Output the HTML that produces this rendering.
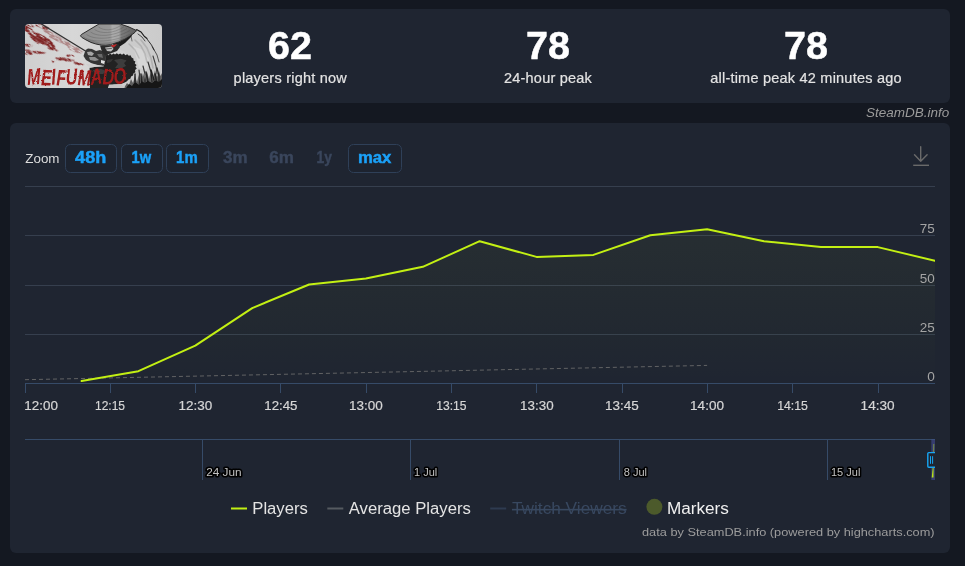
<!DOCTYPE html>
<html lang="en">
<head>
<meta charset="utf-8">
<title>MEIFUMADO - Steam Charts - SteamDB</title>
<style>
*{box-sizing:border-box;margin:0;padding:0}
html,body{width:965px;height:566px;overflow:hidden;background:#141821}
body{font-family:"Liberation Sans",sans-serif;color:#fff;position:relative}
.panel{will-change:transform;position:absolute;left:10px;width:940px;background:#1f2531;border-radius:6px}
#header{top:9px;height:94px}
#chart{top:123px;height:430px}
#appimg{position:absolute;left:15px;top:15px;width:137px;height:64px;border-radius:4px;overflow:hidden}
.stat{position:absolute;top:0;height:94px;width:258px;text-align:center}
.stat b{position:absolute;left:0;right:0;top:16.8px;font-size:38px;line-height:40px;font-weight:700;color:#fff;-webkit-text-stroke:.5px #fff;transform:scaleX(1.04)}
.stat span{position:absolute;left:0;right:0;top:59px;font-size:14.5px;line-height:20px;color:#e3e3e3;letter-spacing:.22px;-webkit-text-stroke:.2px #e3e3e3}
#credit{will-change:transform;position:absolute;right:16px;top:104.1px;font-size:13.5px;line-height:18px;font-style:italic;color:#9b9b9b}
svg text{font-family:"Liberation Sans",sans-serif}
</style>
</head>
<body>

<div class="panel" id="header">
  <div id="appimg">
    <svg width="137" height="64" viewBox="0 0 137 64">
      <defs>
        <linearGradient id="abg" x1="0" y1="0" x2="1" y2="0">
          <stop offset="0" stop-color="#cfcfcf"/><stop offset=".35" stop-color="#d7d7d7"/><stop offset="1" stop-color="#cbcbcb"/>
        </linearGradient>
        <linearGradient id="hatg" gradientUnits="userSpaceOnUse" x1="56" y1="8" x2="112" y2="8">
          <stop offset="0" stop-color="#8c8c8c"/><stop offset=".3" stop-color="#939393"/><stop offset=".52" stop-color="#979797"/><stop offset=".56" stop-color="#ababab"/><stop offset=".68" stop-color="#a4a4a4"/><stop offset=".72" stop-color="#7c7c7c"/><stop offset="1" stop-color="#5e5e5e"/>
        </linearGradient>
        <filter id="soft" x="-5%" y="-5%" width="110%" height="110%"><feGaussianBlur stdDeviation="0.4"/></filter>
        <filter id="splat" x="-10%" y="-10%" width="120%" height="120%">
          <feTurbulence type="fractalNoise" baseFrequency="0.16 0.75" numOctaves="2" seed="7" result="n"/>
          <feColorMatrix in="n" type="matrix" values="0 0 0 0 0  0 0 0 0 0  0 0 0 0 0  5 0 0 0 -1.75" result="m"/>
          <feComposite in="SourceGraphic" in2="m" operator="in" result="c"/>
          <feGaussianBlur in="c" stdDeviation=".35"/>
        </filter>
        <filter id="rough" x="-5%" y="-15%" width="110%" height="130%">
          <feTurbulence type="fractalNoise" baseFrequency="0.45" numOctaves="2" seed="11" result="t"/>
          <feDisplacementMap in="SourceGraphic" in2="t" scale="2.2" xChannelSelector="R" yChannelSelector="G" result="d"/>
          <feGaussianBlur in="d" stdDeviation=".3"/>
        </filter>
        <filter id="soft2" x="-5%" y="-5%" width="110%" height="110%"><feGaussianBlur stdDeviation="0.55"/></filter>
      </defs>
      <rect width="137" height="64" fill="url(#abg)"/>
      <!-- blood -->
      <g transform="rotate(30)" filter="url(#splat)">
      <g fill="#7e2424" transform="rotate(-30)">
        <path d="M0 1L4 2.5L8 6L11 8.5L15 10L20 12.5L25 16L28 19L30 22L31 26L27 24L23 22L20 21L17 20L13 19.5L9 17L6 14L3 10L0 7Z"/>
        <path d="M6 11L13 11L19 13L25 17L22 20L16 20L10 17.5Z"/>
        <path d="M9 12.5L15 12.5L19.7 15L19 19.7L13 19.5L9.5 16Z"/>
        <path d="M0 20L4 20.3L7.7 21.5L7 23L3 22.8L0 22.5Z"/>
        <path d="M0 25.5L3 25.5L6 27L11 27L16 27.5L21 28.5L20 29.8L14 29.8L9 29.5L6 30.8L2 30.5L0 30Z"/>
        <path d="M19.7 21L25 22L30 24.5L34 27L30 27L24 25Z"/>
        <path d="M30 33.6L37 33.2L44 34.5L50 36L52 37.4L45 37.4L38 37L32 36Z"/>
        <path d="M41 30.8L46 30.6L50 32L47 33L42 32.6Z"/>
        <path d="M48 38L54 38.5L60 40L58 41.2L51 40.6Z"/>
        <path d="M26 37L30 37L28 39Z"/>
        <path d="M10 0L17 0L24.4 4L22 6L16 4L11 2Z"/>
        <path d="M3 0L8 1L10 3L6 3.2L2 1.5Z"/>
      </g>
      <g fill="#7e2424" transform="rotate(-30)" opacity=".45">
        <path d="M17 4L24 7L32 11L40 16L48 21L55 25L59 28L56 29.5L49 26L42 22L34 17.5L27 13L20 9Z"/>
        <path d="M25 10L32 13L38 17L36 19L29 16L24 13Z"/>
        <path d="M42 22L50 26L57 29L52 29L45 26Z"/>
      </g>
      </g>
      <g fill="#7e2424" filter="url(#soft2)">
        <path d="M8 12L13 12L18 13.5L21 16L22 19L18 19.5L13 19L10 17Z" opacity=".7"/>
        <path d="M11 14L17 14.5L19 17.5L14 18Z" opacity=".6"/>
        <path d="M1 26.5L5 27L4 29.5L1 29Z" opacity=".55"/>
        <path d="M33 34.5L42 34.8L46 36.2L38 36.4Z" opacity=".5"/>
      </g>
      <!-- sword -->
      <path d="M16.3 0L60.5 27" stroke="#303030" stroke-width="1.25" fill="none"/>
      <g filter="url(#soft)">
      <!-- fur cloak -->
      <path d="M106 4L112 4.5L119.5 12.5L126.5 21L132 31L135 42L137 52L137 64L96 64L103 56L108 48L111 42L108 34L100 28L92 24L96 16Z" fill="#cbcbcb"/>
      <path d="M108 22L118 26L124 36L122 46L114 44L112 36Z" fill="#d6d6d6"/>
      <g stroke="#1a1a1a" fill="none" stroke-linecap="round">
        <path d="M111.6 5.5L116 8L119.5 12.5L122 14.5" stroke-width="1.1"/>
        <path d="M113 10L117 13L120 17" stroke-width=".9" opacity=".8"/>
        <path d="M122 15L126.5 21L129 26" stroke-width="1" opacity=".85"/>
        <path d="M127.5 23L132 31L134 38" stroke-width=".9" opacity=".75"/>
        <path d="M106 12L107 17" stroke-width=".8" opacity=".7"/>
        <path d="M110 16L116 22L120 30L122 38" stroke="#777" stroke-width="1.6" opacity=".3"/>
        <path d="M116 16L122 24L126 34L128 44" stroke="#777" stroke-width="1.6" opacity=".3"/>
        <path d="M104 20L110 26L114 34" stroke="#777" stroke-width="1.4" opacity=".3"/>
        <path d="M128 32L131 42L132 50" stroke-width="1.1" opacity=".8"/>
        <path d="M123 38L126 48L127 58" stroke-width="1.2" opacity=".85"/>
        <path d="M118 42L120 50L120 60" stroke-width="1.2" opacity=".85"/>
        <path d="M114 46L115 54L114 62" stroke-width="1.2" opacity=".8"/>
        <path d="M132 44L134 52L134 60" stroke-width="1.3" opacity=".9"/>
        <path d="M110 50L110 58M121 48L123 58M126 46L129 56M130 50L132 60M116 50L117 60" stroke-width="1.5" opacity=".9"/>
      </g>
      <path d="M99 64L102 59L104 61L106 55L108 59L110 52L112 58L114 50L116 57L118 49L120 56L122 48L124 55L126 47L128 54L130 46L132 53L134 47L135.5 52L137 49L137 64Z" fill="#1a1a1a" opacity=".62"/>
      <path d="M101 64L104 60L107 62L110 58L114 61L117 57.5L120 59L123 57L127 59L130 56.5L134 58L137 55L137 64Z" fill="#141414"/>
      <!-- under-hat shadow -->
      <path d="M88 20L96 17L104 12L108 9L106 13L100 19L94 23L90 24Z" fill="#1a1a1a"/>
      <!-- body -->
      <path d="M80.5 32L82 30.4L83.5 31.2L85 29.6L86.8 30.8L88.5 29.4L90 30.6L91.8 29.2L93.5 30.6L95.2 29.4L97 30.8L98.8 29.6L100.4 31.2L102.2 30.2L103.8 31.8L105.5 31.3L106.6 33.4L108.4 34.4L108.6 36.4L110.4 37.6L109.8 39.6L111.6 41L110.4 42.8L111.8 44.6L110 46L110.4 48.2L108.4 49.4L108 51.6L106 52.6L105.5 54.6L103.4 55.4L102 57.2L99.8 58.6L96 60L89 60.5L84 62L83 64L65 64L64.6 56L64.6 43.7L71 42.7L78.6 42.4L80 38Z" fill="#222222"/>
      <path d="M89 36L96 34.8L101.7 36.5L99 39L101 42L96 44.5L90 44L93 40Z" fill="#555555" opacity=".55"/>
      <path d="M82 36L88 35L86 38L82 39Z" fill="#444444" opacity=".6"/>
      <path d="M68 46L76 45L82 47L78 50L70 50Z" fill="#484848" opacity=".7"/>
      <path d="M84 60.5L96 60.2L100 64L83 64Z" fill="#c4c4c4"/>
      <!-- arms / hands -->
      <path d="M60.5 26L63 24.5L67 25L71 27L75 26L79 28L81 32L80 38L78.6 42L72 41L66 39L61 36L58.5 32Z" fill="#363636"/>
      <path d="M62 28L66 27.5L69 29.5L67 32L63 31Z" fill="#a5a5a5"/>
      <path d="M64 33L70 33L74 36L70 37L65 36Z" fill="#8e8e8e"/>
      <path d="M72 30L77 30L78 34L74 33Z" fill="#6a6a6a"/>
      <path d="M60.8 40L70 40.5L78.6 42L71 42.7L64.6 43.7Z" fill="#cfcfcf"/>
      <path d="M76 36L80 37L79 40L76 39Z" fill="#e0e0e0"/>
      <!-- face -->
      <path d="M75 21.5L80 21.5L88 21L93 19.5L95 23L92 27L88 28.5L84 30L80.5 32L77 28Z" fill="#2c2c2c"/>
      <path d="M80 23.5L87 22.5L88.5 25L86 27.5L82 27Z" fill="#bcbcbc"/>
      <path d="M81 25L87 24.3" stroke="#3a3a3a" stroke-width=".7"/>
      <path d="M85.6 21.5L92 20L90.5 22L88.5 23.5L87 22.6Z" fill="#bf2a2a"/>
      <!-- hat -->
      <path d="M56.4 10.5L74 0L95.4 0L104 3L111.6 6.6Q109.5 9.5 100 15.2Q94 18.3 85.6 20.6Q80.5 21.8 76.7 21.2Q70.5 20.2 65.9 18.4Q60.5 15.8 56.8 13.4Q54.4 11.8 56.4 10.5Z" fill="url(#hatg)" stroke="#2b2b2b" stroke-width="1" stroke-linejoin="round"/>
      <g stroke="#3c3c3c" stroke-width=".5" fill="none" opacity=".5">
        <path d="M58 12.6C66 19 88 19 108 8.8"/>
        <path d="M61.5 10.5C69 16 88 16 105 6.5"/>
        <path d="M65.5 8C72 13 88 13 102 4.5"/>
        <path d="M69.5 5.5C76 10 88 10 99 2.8"/>
        <path d="M73.5 3C79 7 88 7 96 1.2"/>
      </g>
      <path d="M59 14.5L65.9 18.4L76.7 21.2L85.6 20.6L94.5 17.7L100 15.2L108 9L100 13.5L92 16.2L84 18.3L76 18.8L67 16.6Z" fill="#000000" opacity=".14"/>
      </g>
      <!-- title -->
      <g font-family="'Liberation Sans',sans-serif" font-weight="700" font-style="italic" fill="#a01a1a" filter="url(#rough)">
        <text x="2.6" y="61" font-size="22.5" textLength="99" lengthAdjust="spacingAndGlyphs" rotate="-3 2 -4 3 -2 3 -5 2 -3" dy="0 0.6 -0.4 0.5 -0.3 0.4 0.3 -0.6 0.2" transform="rotate(-1 2 60)">MEIFUMADO</text>
      </g>
    </svg>
  </div>
  <div class="stat" style="left:151.3px"><b>62</b><span>players right now</span></div>
  <div class="stat" style="left:409px"><b>78</b><span>24-hour peak</span></div>
  <div class="stat" style="left:667px"><b>78</b><span>all-time peak 42 minutes ago</span></div>
</div>

<div id="credit">SteamDB.info</div>

<div class="panel" id="chart">
<svg width="940" height="430" viewBox="10 123 940 430" style="position:absolute;left:0;top:0">
  <defs>
    <linearGradient id="pfill" x1="0" y1="0" x2="0" y2="1">
      <stop offset="0" stop-color="#b8d84a" stop-opacity="0.05"/>
      <stop offset="1" stop-color="#c3f013" stop-opacity="0"/>
    </linearGradient>
    <clipPath id="plotclip"><rect x="25" y="180" width="910" height="204"/></clipPath>
    <clipPath id="credclip"><rect x="600" y="520" width="340" height="18"/></clipPath>
    <clipPath id="navclip"><rect x="25" y="439" width="910" height="41"/></clipPath>
  </defs>

  <!-- range selector -->
  <text x="25.3" y="163" font-size="13.2" fill="#dddddd" textLength="34.2" lengthAdjust="spacingAndGlyphs">Zoom</text>
  <g fill="#1d232f" stroke="#2f4058" stroke-width="1">
    <rect x="65.5" y="144.5" width="51" height="28" rx="5"/>
    <rect x="121.5" y="144.5" width="41" height="28" rx="5"/>
    <rect x="166.5" y="144.5" width="42" height="28" rx="5"/>
    <rect x="348.5" y="144.5" width="53" height="28" rx="5"/>
  </g>
  <g font-size="16" font-weight="700" text-anchor="middle" fill="#1ba1f8" stroke="#1ba1f8" stroke-width=".45">
    <text x="90.7" y="163.3" textLength="31.2" lengthAdjust="spacingAndGlyphs">48h</text>
    <text x="141.3" y="163.3" textLength="19.6" lengthAdjust="spacingAndGlyphs">1w</text>
    <text x="186.9" y="163.3" textLength="21.6" lengthAdjust="spacingAndGlyphs">1m</text>
    <text x="374.7" y="163.3" textLength="33.5" lengthAdjust="spacingAndGlyphs">max</text>
  </g>
  <g font-size="16" font-weight="700" text-anchor="middle" fill="#3a465c" stroke="#3a465c" stroke-width=".4">
    <text x="235.4" y="163.3" textLength="24.6" lengthAdjust="spacingAndGlyphs">3m</text>
    <text x="281.5" y="163.3" textLength="24.6" lengthAdjust="spacingAndGlyphs">6m</text>
    <text x="324.2" y="163.3" textLength="15.4" lengthAdjust="spacingAndGlyphs">1y</text>
  </g>

  <!-- export icon -->
  <g fill="none" stroke="#6a6a6a" stroke-width="1.4" stroke-linecap="round" stroke-linejoin="round">
    <path d="M920.7 146.7V161.2M914.5 154.8L920.7 161.2L927.1 154.8"/><path d="M913.2 165.3H929" stroke-linecap="butt"/>
  </g>

  <!-- gridlines -->
  <path d="M25 186.5H935M25 235.5H935M25 285.5H935M25 334.5H935" stroke="#363f4e" stroke-width="1" fill="none" shape-rendering="crispEdges"/>
  <!-- x axis -->
  <path d="M25 383.5H935M25.5 383.5V393M110.5 383.5V393M195.5 383.5V393M280.5 383.5V393M366.5 383.5V393M451.5 383.5V393M536.5 383.5V393M622.5 383.5V393M707.5 383.5V393M792.5 383.5V393M878.5 383.5V393" stroke="#364b68" stroke-width="1" fill="none" shape-rendering="crispEdges"/>

  <!-- series -->
  <g clip-path="url(#plotclip)">
    <path d="M81.6 381.0L138.4 371.2L195.3 345.6L252.2 308.1L309.1 284.5L365.9 278.6L422.8 266.8L479.7 241.2L536.5 256.9L593.4 254.9L650.3 235.2L707.1 229.3L764.0 241.2L820.9 247.1L877.8 247.1L935.0 260.9L935 383.5L81.6 383.5Z" fill="url(#pfill)"/>
    <path d="M25 379.7L707.1 365.4" stroke="#6c6c6c" stroke-opacity=".85" stroke-width="1" stroke-dasharray="4,3" fill="none"/>
    <path d="M81.6 381.0L138.4 371.2L195.3 345.6L252.2 308.1L309.1 284.5L365.9 278.6L422.8 266.8L479.7 241.2L536.5 256.9L593.4 254.9L650.3 235.2L707.1 229.3L764.0 241.2L820.9 247.1L877.8 247.1L935.0 260.9" stroke="#c3f013" stroke-width="2" fill="none" stroke-linejoin="round" stroke-linecap="round"/>
  </g>

  <!-- y labels -->
  <g font-size="12.4" text-anchor="end" fill="#a4a4a4">
    <text x="934.8" y="233" textLength="15" lengthAdjust="spacingAndGlyphs">75</text>
    <text x="934.8" y="283" textLength="15" lengthAdjust="spacingAndGlyphs">50</text>
    <text x="934.8" y="332" textLength="15" lengthAdjust="spacingAndGlyphs">25</text>
    <text x="934.8" y="381" textLength="7.6" lengthAdjust="spacingAndGlyphs">0</text>
  </g>
  <!-- x labels -->
  <g font-size="13" fill="#d6d6d6" stroke="#d6d6d6" stroke-width=".2">
    <text x="24.3" y="409.6" textLength="33.6" lengthAdjust="spacingAndGlyphs">12:00</text>
    <text x="95.0" y="409.6" textLength="30.0" lengthAdjust="spacingAndGlyphs">12:15</text>
    <text x="178.6" y="409.6" textLength="33.7" lengthAdjust="spacingAndGlyphs">12:30</text>
    <text x="264.3" y="409.6" textLength="33.2" lengthAdjust="spacingAndGlyphs">12:45</text>
    <text x="349.1" y="409.6" textLength="33.8" lengthAdjust="spacingAndGlyphs">13:00</text>
    <text x="436.2" y="409.6" textLength="30.3" lengthAdjust="spacingAndGlyphs">13:15</text>
    <text x="520.1" y="409.6" textLength="33.5" lengthAdjust="spacingAndGlyphs">13:30</text>
    <text x="605.0" y="409.6" textLength="33.7" lengthAdjust="spacingAndGlyphs">13:45</text>
    <text x="690.1" y="409.6" textLength="33.9" lengthAdjust="spacingAndGlyphs">14:00</text>
    <text x="777.2" y="409.6" textLength="30.7" lengthAdjust="spacingAndGlyphs">14:15</text>
    <text x="860.6" y="409.6" textLength="34.0" lengthAdjust="spacingAndGlyphs">14:30</text>
  </g>

  <!-- navigator -->
  <path d="M25 439.5H935M202.5 439.5V479.5M410.5 439.5V479.5M619.5 439.5V479.5M827.5 439.5V479.5" stroke="#364b68" stroke-width="1" fill="none" shape-rendering="crispEdges"/>
  <g font-size="11" fill="#c2c2c2" stroke="#000000" stroke-width="3.2" stroke-linejoin="round" paint-order="stroke">
    <text x="206.2" y="475.8" textLength="35.4" lengthAdjust="spacingAndGlyphs">24 Jun</text>
    <text x="414" y="475.8">1 Jul</text>
    <text x="623.8" y="475.8">8 Jul</text>
    <text x="831" y="475.8">15 Jul</text>
  </g>
  <g clip-path="url(#navclip)">
    <rect x="931.3" y="439.5" width="3.7" height="40.5" fill="#5660c4" fill-opacity="0.42"/>
    <path d="M933.1 468L933.8 444" stroke="#c3f013" stroke-width=".9" fill="none" opacity=".5"/>
    <path d="M931.7 477.6L933.5 477.6L933.6 466L932.9 466Z" fill="#c3f013" opacity=".92"/>
    <rect x="927.8" y="452.6" width="12" height="14.7" rx="1" fill="#1f2531" stroke="#17a6f4" stroke-width="1.4"/>
    <path d="M930.5 456.2V463.8M932.6 456.2V463.8" stroke="#17a6f4" stroke-width="1" fill="none"/>
  </g>

  <!-- legend -->
  <path d="M231 508.5H247" stroke="#c3f013" stroke-width="2"/>
  <text x="252.3" y="514.3" font-size="16" fill="#e4e4e4" textLength="55.5" lengthAdjust="spacingAndGlyphs">Players</text>
  <path d="M327.3 508.5H343.3" stroke="#555a60" stroke-width="2"/>
  <text x="348.8" y="514.3" font-size="16" fill="#e4e4e4" textLength="122" lengthAdjust="spacingAndGlyphs">Average Players</text>
  <path d="M490.2 508.5H506.2" stroke="#2e3b50" stroke-width="2"/>
  <text x="512" y="514.3" font-size="16" fill="#384860" text-decoration="line-through" textLength="114.6" lengthAdjust="spacingAndGlyphs">Twitch Viewers</text>
  <circle cx="654.4" cy="506.8" r="8" fill="#4c5a2b"/>
  <text x="666.9" y="514.3" font-size="16" fill="#f0f0f0" textLength="62" lengthAdjust="spacingAndGlyphs">Markers</text>

  <!-- credits -->
  <text x="934.6" y="535.9" font-size="11.7" text-anchor="end" fill="#9c9c9c" textLength="292.6" lengthAdjust="spacingAndGlyphs" clip-path="url(#credclip)">data by SteamDB.info (powered by highcharts.com)</text>
</svg>
</div>

</body>
</html>
